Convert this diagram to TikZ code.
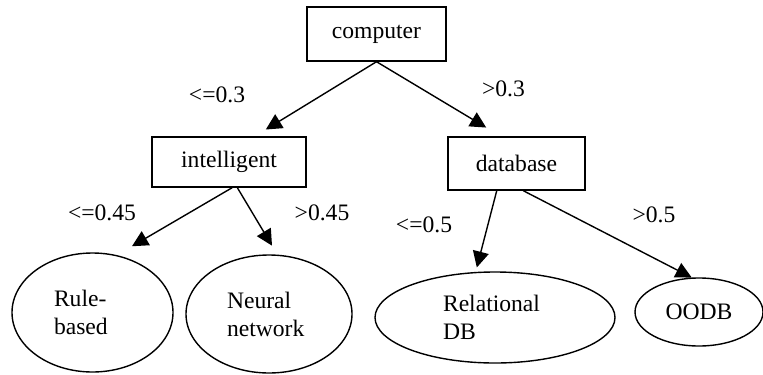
\documentclass[tikz,border=0pt]{standalone}
\usepackage{fontspec}
\setmainfont{Liberation Serif}
\newfontfamily\treefont{Liberation Serif}
\usetikzlibrary{arrows.meta,shapes.geometric}
\tikzset{
	box/.style={
		shape = rectangle,
		draw,
		inner sep = 0pt
	},
	leaf/.style={
		shape = ellipse,
		draw,
		inner sep = 0pt,
		align = left
	},
	cond/.style={
		anchor = base,
		inner sep = 0pt
	},
}
\tikzset{>={Triangle[length=8pt,width=8pt]}}

\begin{document}
\begin{tikzpicture}[x=0.5pt, y=-0.5pt, line width=0.7pt, font=\treefont\fontsize{11.8}{14}\selectfont]
    \useasboundingbox (0,0) rectangle (763,374);
    \node[box, minimum width=69.5pt, minimum height=27pt] (computer) at (376.5,34) {computer};
    \node[box, minimum width=77pt, minimum height=25pt] (intelligent) at (229,162) {intelligent};
    \node[box, minimum width=68.5pt, minimum height=26.5pt] (database) at (516.5,163.5) {database};
    \node[leaf, minimum width=80.5pt, minimum height=59.5pt, text width=38.5pt] (rule) at (92.5,312.5) {Rule-\\based};
    \node[leaf, minimum width=83pt, minimum height=59pt, text width=42pt] (neural) at (269,314) {Neural\\network};
    \node[leaf, minimum width=120pt, minimum height=45.5pt, text width=52pt] (relational) at (495,317.5) {Relational\\DB};
    \node[leaf, minimum width=64pt, minimum height=34pt, align=center] (oodb) at (699,312) {OODB};
    \draw[->, shorten >=6.5pt] (computer.south) -- (intelligent.45);
    \draw[->, shorten >=8.5pt] (computer.south) -- (database.120);
    \draw[->, shorten >=8.75pt] (intelligent.-83) -- (rule.67);
    \draw[->, shorten >=5.2pt] (intelligent.-72) -- (neural.82);
    \draw[->, shorten >=2.3pt] (database.-126) -- (relational.113);
    \draw[->] (database.-76) -- (oodb.102);
    \node[cond] (le1) at (217,102) {<=0.3};
    \node[cond] (gt1) at (503.5,97) {>0.3};
    \node[cond] (le2) at (102,220) {<=0.45};
    \node[cond] (gt2) at (322,220) {>0.45};
    \node[cond] (le3) at (424,232) {<=0.5};
    \node[cond] (gt3) at (654,222) {>0.5};
\end{tikzpicture}
\end{document}
